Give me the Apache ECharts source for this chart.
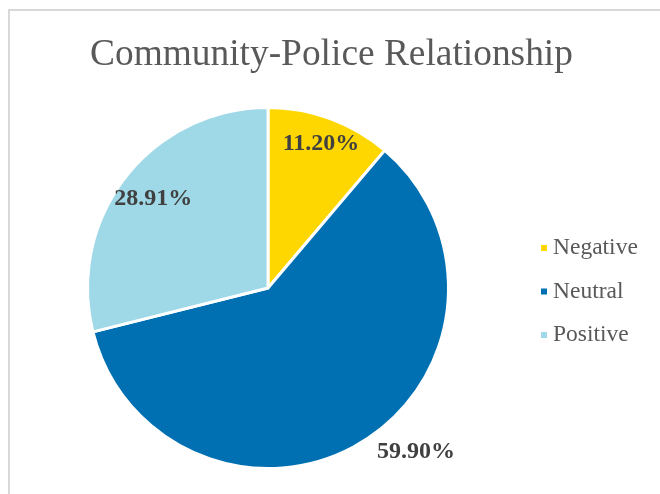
<!DOCTYPE html>
<html><head><meta charset="utf-8">
<script src="https://cdn.jsdelivr.net/npm/echarts@6/dist/echarts.min.js"></script>
<style>html,body{margin:0;padding:0;background:#fff}#c{width:660px;height:494px}</style>
</head><body><div id="c"></div>
<script>
const categories = ['Negative', 'Neutral', 'Positive'];
const values = [11.20, 59.90, 28.91];
const colors = ['#FFD700', '#0070B2', '#9FD8E7'];

const serif = '"Liberation Serif", "Times New Roman", serif';
const R = 180.5;
const center = [268, 288];
const fmt = p => p.value.toFixed(2) + '%';
const labelStyle = { color: '#404040', fontFamily: serif, fontSize: 24, fontWeight: 'bold', formatter: fmt };

const mainData = categories.map((n, i) => ({
  name: n, value: values[i], itemStyle: { color: colors[i] },
  label: n === 'Neutral'
    ? Object.assign({ show: true, position: 'outside' }, labelStyle)
    : { show: false }
}));
function overlayData(which) {
  return categories.map((n, i) => ({
    name: n, value: values[i],
    label: n === which ? Object.assign({ show: true, position: 'inside' }, labelStyle) : { show: false }
  }));
}
function overlay(which, factor) {
  return {
    type: 'pie', center: center, radius: [0, R * factor], startAngle: 90, clockwise: true,
    silent: true, avoidLabelOverlap: false,
    itemStyle: { color: 'rgba(0,0,0,0)', borderWidth: 0 },
    labelLine: { show: false },
    emphasis: { disabled: true },
    data: overlayData(which)
  };
}

const chart = echarts.init(document.getElementById('c'), null, { renderer: 'canvas' });
chart.setOption({
  backgroundColor: '#fff',
  animation: false,
  title: {
    text: 'Community-Police Relationship',
    left: 85, top: 32,
    textStyle: { fontFamily: serif, fontSize: 37.4, fontWeight: 'normal', color: '#595959' }
  },
  legend: {
    orient: 'vertical', left: 534, top: 231,
    icon: 'rect', itemWidth: 8, itemHeight: 8, itemGap: 19.5,
    data: categories.map((n, i) => ({ name: n, itemStyle: { color: colors[i] } })),
    textStyle: { fontFamily: serif, fontSize: 23.5, color: '#595959' }
  },
  graphic: [{
    type: 'rect', shape: { x: 9, y: 10, width: 700, height: 600 },
    style: { fill: 'none', stroke: '#d9d9d9', lineWidth: 2 }, silent: true, z: -10
  }],
  series: [{
    type: 'pie', center: center, radius: [0, R], startAngle: 90, clockwise: true,
    avoidLabelOverlap: false,
    itemStyle: { borderColor: '#fff', borderWidth: 3 },
    labelLine: { show: false, length: 12.5, length2: 2 },
    emphasis: { disabled: true },
    data: mainData
  },
  overlay('Negative', 1.67),
  overlay('Positive', 1.58)
  ]
});
</script></body></html>
